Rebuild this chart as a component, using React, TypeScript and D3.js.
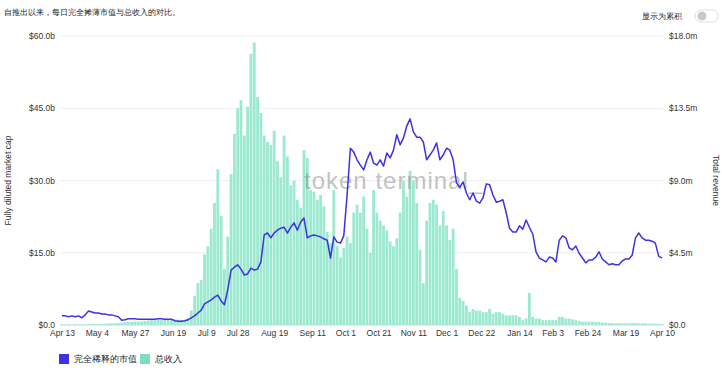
import React, { useEffect, useRef } from 'react';
import * as d3 from 'd3';

// every second day, starting Apr 13 2021
const startDate = '2021-04-13';

// fully diluted market cap, $b
const marketCap = [
  1.9, 1.9, 1.7, 1.9, 1.7, 1.9, 1.5, 2.1, 2.9, 2.7,
  2.5, 2.5, 2.3, 2.3, 2.1, 2.1, 1.9, 1.7, 1.0, 1.1,
  1.3, 1.3, 1.3, 1.2, 1.2, 1.2, 1.2, 1.2, 1.2, 1.3,
  1.3, 1.2, 1.2, 1.2, 0.9, 0.8, 0.8, 0.9, 1.1, 1.5,
  1.9, 2.5, 3.1, 4.4, 4.8, 5.2, 5.8, 6.2, 5.0, 4.2,
  7.3, 11.4, 12.0, 12.5, 11.6, 10.4, 10.6, 11.8, 11.4, 11.6,
  13.1, 18.7, 19.1, 18.1, 19.1, 19.7, 20.1, 20.3, 19.1, 20.3,
  21.2, 19.7, 21.4, 22.2, 18.1, 18.5, 18.7, 18.5, 18.3, 17.9,
  17.6, 13.9, 18.3, 17.2, 17.0, 18.5, 27.0, 36.7, 35.9, 34.3,
  33.2, 32.2, 34.3, 35.9, 33.6, 33.2, 34.3, 33.0, 35.7, 34.7,
  36.3, 39.5, 37.4, 38.8, 41.3, 42.8, 40.1, 39.0, 39.0, 38.0,
  34.3, 35.3, 36.3, 37.8, 34.3, 35.3, 36.7, 36.3, 34.3, 29.5,
  28.6, 29.7, 27.4, 26.0, 27.4, 25.7, 25.3, 26.4, 29.3, 29.1,
  27.0, 25.5, 25.7, 26.0, 23.3, 20.1, 19.3, 19.3, 20.6, 19.9,
  21.8, 20.3, 18.9, 15.2, 13.9, 13.5, 13.1, 14.1, 13.9, 13.1,
  17.6, 18.5, 18.1, 16.0, 15.6, 16.4, 14.9, 13.9, 12.9, 13.5,
  13.5, 14.1, 15.2, 13.7, 13.1, 12.5, 12.7, 12.5, 12.5, 13.3,
  13.7, 13.7, 14.5, 18.1, 19.1, 18.1, 17.6, 17.6, 17.4, 17.0,
  14.3, 13.9
];

// total revenue, $m
const revenue = [
  0.03, 0.03, 0.04, 0.03, 0.03, 0.04, 0.03, 0.04, 0.05, 0.06,
  0.05, 0.06, 0.07, 0.08, 0.1, 0.1, 0.12, 0.12, 0.15, 0.18,
  0.2, 0.2, 0.22, 0.2, 0.22, 0.25, 0.28, 0.3, 0.3, 0.32,
  0.3, 0.35, 0.35, 0.38, 0.35, 0.33, 0.3, 0.32, 0.4, 0.9,
  1.8, 2.6, 2.8, 4.4, 4.9, 6.0, 7.6, 9.7, 6.8, 3.5,
  5.5, 9.4, 11.9, 13.5, 14.0, 11.8, 13.6, 16.9, 17.6, 14.2,
  13.2, 11.8, 11.4, 11.2, 12.1, 10.2, 9.2, 11.8, 10.5, 8.7,
  9.0, 7.8, 7.3, 10.9, 10.4, 8.4, 8.3, 7.8, 8.1, 7.4,
  5.8, 5.1, 8.4, 4.9, 4.2, 4.8, 5.5, 5.1, 7.0, 7.5,
  7.0, 8.0, 6.0, 4.5, 8.4, 7.0, 6.5, 6.2, 5.9, 5.2,
  4.9, 5.4, 7.0, 9.0, 8.0, 9.6, 9.0, 7.6, 4.7, 2.6,
  6.5, 7.6, 7.8, 7.5, 6.2, 7.1, 6.2, 5.3, 6.0, 3.5,
  1.7, 1.5, 1.2, 0.8, 1.0, 0.9, 0.9, 0.8, 0.8, 1.0,
  0.7, 0.8, 0.8, 0.7, 0.6, 0.6, 0.6, 0.6, 0.5, 0.3,
  0.4, 2.0, 0.5, 0.4, 0.4, 0.3, 0.3, 0.3, 0.3, 0.3,
  0.5, 0.5, 0.4, 0.4, 0.35, 0.3, 0.25, 0.2, 0.2, 0.22,
  0.2, 0.18, 0.2, 0.15, 0.15, 0.12, 0.12, 0.1, 0.12, 0.1,
  0.1, 0.1, 0.12, 0.12, 0.1, 0.1, 0.1, 0.08, 0.1, 0.08,
  0.08, 0.06
];

const xTicks = [
  '2021-04-13', '2021-05-04', '2021-05-27', '2021-06-19', '2021-07-09', '2021-07-28',
  '2021-08-19', '2021-09-11', '2021-10-01', '2021-10-21', '2021-11-11', '2021-12-01',
  '2021-12-22', '2022-01-14', '2022-02-03', '2022-02-24', '2022-03-19', '2022-04-10'
];
const leftTicks = [0, 15, 30, 45, 60];
const rightTicks = [0, 4.5, 9, 13.5, 18];

const title = '自推出以来，每日完全摊薄市值与总收入的对比。';
const seriesNames = ['完全稀释的市值', '总收入'];

const blue = '#3d31e3';
const green = '#9be9cf';
const font = '"Liberation Sans", Arial, sans-serif';

function App() {
  const ref = useRef(null);

  useEffect(() => {
    const svg = d3.select(ref.current);
    svg.selectAll('*').remove();

    const width = 722, height = 371;
    const margin = { top: 36, right: 60, bottom: 46, left: 62 };
    const parse = d3.timeParse('%Y-%m-%d');
    const start = parse(startDate);

    const rows = marketCap.map((v, i) => ({
      date: d3.timeDay.offset(start, i * 2),
      cap: v,
      rev: revenue[i]
    }));

    const x = d3.scaleTime()
      .domain([parse(xTicks[0]), parse(xTicks[xTicks.length - 1])])
      .range([margin.left, width - margin.right]);
    const yL = d3.scaleLinear().domain([0, 60]).range([height - margin.bottom, margin.top]);
    const yR = d3.scaleLinear().domain([0, 18]).range([height - margin.bottom, margin.top]);

    svg.append('rect').attr('width', width).attr('height', height).attr('fill', '#fff');

    // title + toggle
    svg.append('text').attr('x', 4).attr('y', 15)
      .attr('font-size', 8.2).attr('fill', '#222').text(title);
    svg.append('text').attr('x', 682).attr('y', 19).attr('text-anchor', 'end')
      .attr('font-size', 8.2).attr('fill', '#222').text('显示为累积');
    svg.append('rect').attr('x', 695).attr('y', 10).attr('width', 23).attr('height', 12)
      .attr('rx', 6).attr('fill', '#fff').attr('stroke', '#ddd');
    svg.append('circle').attr('cx', 702).attr('cy', 16).attr('r', 4.5).attr('fill', '#c8c8c8');

    // grid
    svg.append('g').selectAll('line').data(leftTicks).join('line')
      .attr('x1', 60).attr('x2', 664)
      .attr('y1', d => yL(d)).attr('y2', d => yL(d))
      .attr('stroke', d => d === 0 ? '#d6d6d6' : '#eeeeee');

    // left axis
    const axL = svg.append('g').attr('transform', `translate(${margin.left - 2},0)`)
      .call(d3.axisLeft(yL).tickValues(leftTicks).tickSize(0).tickPadding(5)
        .tickFormat(d => d === 0 ? '$0.0' : `$${d3.format('.1f')(d)}b`));
    axL.select('.domain').remove();
    axL.selectAll('text').attr('font-size', 8.5).attr('font-family', font).attr('fill', '#333');

    // right axis
    const axR = svg.append('g').attr('transform', `translate(${width - margin.right + 4},0)`)
      .call(d3.axisRight(yR).tickValues(rightTicks).tickSize(0).tickPadding(3)
        .tickFormat(d => d === 0 ? '$0.0' : `$${d3.format('.1f')(d)}m`));
    axR.select('.domain').remove();
    axR.selectAll('text').attr('font-size', 8.5).attr('font-family', font).attr('fill', '#333');

    // x axis
    const axX = svg.append('g').attr('transform', `translate(0,${height - margin.bottom})`)
      .call(d3.axisBottom(x).tickValues(xTicks.map(parse)).tickSize(0).tickPadding(5)
        .tickFormat(d3.timeFormat('%b %-d')));
    axX.select('.domain').remove();
    axX.selectAll('text').attr('font-size', 8.5).attr('font-family', font).attr('fill', '#333');

    // axis titles
    svg.append('text').attr('transform', `translate(11,${(margin.top + height - margin.bottom) / 2}) rotate(-90)`)
      .attr('text-anchor', 'middle').attr('font-size', 8.5).attr('font-family', font).attr('fill', '#333')
      .text('Fully diluted market cap');
    svg.append('text').attr('transform', `translate(713,${(margin.top + height - margin.bottom) / 2}) rotate(90)`)
      .attr('text-anchor', 'middle').attr('font-size', 8.5).attr('font-family', font).attr('fill', '#333')
      .text('Total revenue');

    // revenue bars
    const bw = 2.8;
    svg.append('g').selectAll('rect').data(rows).join('rect')
      .attr('x', d => x(d.date) - bw / 2)
      .attr('width', bw)
      .attr('y', d => yR(d.rev))
      .attr('height', d => yR(0) - yR(d.rev))
      .attr('fill', green);

    // watermark
    svg.append('text').attr('x', 304).attr('y', 189)
      .attr('font-size', 24).attr('font-family', font).attr('fill', '#888')
      .attr('opacity', 0.5).attr('letter-spacing', 1).text('token terminal_');

    // market cap line
    const line = d3.line()
      .x(d => x(d.date))
      .y(d => yL(d.cap));
    svg.append('path').datum(rows)
      .attr('fill', 'none').attr('stroke', blue).attr('stroke-width', 1.5)
      .attr('stroke-linejoin', 'round').attr('d', line);

    // legend
    const lg = svg.append('g').attr('font-size', 8.8).attr('fill', '#222');
    lg.append('rect').attr('x', 59).attr('y', 354).attr('width', 10).attr('height', 10).attr('fill', blue);
    lg.append('text').attr('x', 74).attr('y', 362).text(seriesNames[0]);
    lg.append('rect').attr('x', 140).attr('y', 354).attr('width', 10).attr('height', 10).attr('fill', '#7fdcbc');
    lg.append('text').attr('x', 155).attr('y', 362).text(seriesNames[1]);
  }, []);

  return (
    <svg ref={ref} width="722" height="371"
      style={{ position: 'absolute', left: 0, top: 0, fontFamily: font }}></svg>
  );
}

export default App;
